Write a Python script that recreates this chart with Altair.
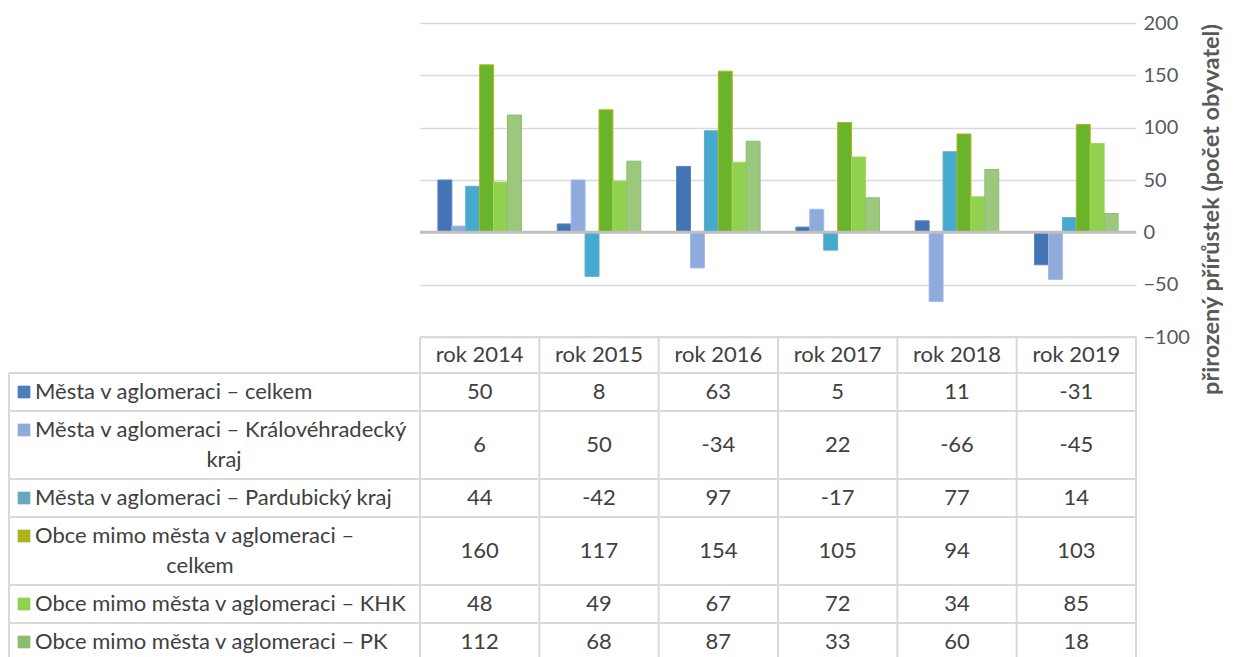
import altair as alt
import pandas as pd

years = ["rok 2014", "rok 2015", "rok 2016", "rok 2017", "rok 2018", "rok 2019"]
series = [
    "Města v aglomeraci – celkem",
    "Města v aglomeraci – Královéhradecký kraj",
    "Města v aglomeraci – Pardubický kraj",
    "Obce mimo města v aglomeraci – celkem",
    "Obce mimo města v aglomeraci – KHK",
    "Obce mimo města v aglomeraci – PK",
]
label_line1 = [
    "Města v aglomeraci – celkem",
    "Města v aglomeraci – Královéhradecký",
    "Města v aglomeraci – Pardubický kraj",
    "Obce mimo města v aglomeraci –",
    "Obce mimo města v aglomeraci – KHK",
    "Obce mimo města v aglomeraci – PK",
]
label_line2 = ["", "kraj", "", "celkem", "", ""]

mesta_celkem = [50, 8, 63, 5, 11, -31]
mesta_khk = [6, 50, -34, 22, -66, -45]
mesta_pk = [44, -42, 97, -17, 77, 14]
obce_celkem = [160, 117, 154, 105, 94, 103]
obce_khk = [48, 49, 67, 72, 34, 85]
obce_pk = [112, 68, 87, 33, 60, 18]
values = [mesta_celkem, mesta_khk, mesta_pk, obce_celkem, obce_khk, obce_pk]

bar_colors = ["#4474B4", "#8FAADC", "#45AACF", "#6AB42C", "#92D050", "#9CC87E"]
stroke_colors = ["#5585C2", "#A3BAE3", "#6AA9BF", "#B4B61A", "#A2DA66", "#8CBD6E"]
key_colors = ["#4A7EBB", "#8FAADC", "#65A8BF", "#A9B41C", "#92D050", "#8DBE6E"]

FONT = "Lato"
TXT = "#404040"
GRID = "#D9D9D9"
TFS = 22

# ---------- bar chart ----------
rows = []
for s, vals in zip(series, values):
    for y, v in zip(years, vals):
        rows.append({"year": y, "series": s, "value": v})
df = pd.DataFrame(rows)

PLOT_W, PLOT_H = 716, 314
LABEL_W = 412

ysc = alt.Scale(domain=[-100, 200], nice=False, zero=False)
bars = alt.Chart(df).mark_bar(strokeWidth=1).encode(
    x=alt.X("year:N", sort=years, axis=None,
            scale=alt.Scale(paddingInner=0.3, paddingOuter=0.15)),
    xOffset=alt.XOffset("series:N", sort=series,
                        scale=alt.Scale(paddingInner=0, paddingOuter=0)),
    y=alt.Y("value:Q", scale=ysc,
            axis=alt.Axis(orient="right", values=[-100, -50, 0, 50, 100, 150, 200],
                          grid=True, gridColor=GRID, gridWidth=1.5,
                          domain=False, ticks=False,
                          labelFontSize=20, labelColor="#595959", labelPadding=7,
                          labelFont=FONT,
                          title="přirozený přírůstek (počet obyvatel)",
                          titleFont=FONT, titleFontSize=23.5, titleFontWeight="bold",
                          titleColor="#595959", titlePadding=34, titleY=186,
                          titleAngle=270)),
    color=alt.Color("series:N", scale=alt.Scale(domain=series, range=bar_colors), legend=None),
    stroke=alt.Stroke("series:N", scale=alt.Scale(domain=series, range=stroke_colors), legend=None),
)
zero = alt.Chart(pd.DataFrame({"v": [0]})).mark_rule(color="#BFBFBF", strokeWidth=3).encode(
    y=alt.Y("v:Q", scale=ysc)
)
bar_chart = alt.layer(bars, zero).properties(width=PLOT_W, height=PLOT_H)

spacer = alt.Chart(pd.DataFrame({"a": [0]})).mark_point(opacity=0, size=0).encode(
    x=alt.value(200), y=alt.value(100)
).properties(width=LABEL_W, height=PLOT_H)

# ---------- table ----------
HEADER_H = 36
line_counts = [2 if l2 else 1 for l2 in label_line2]
row_h = [38 + 30 * (n - 1) for n in line_counts]
edges = [0, HEADER_H]
for h in row_h:
    edges.append(edges[-1] + h)
TABLE_H = edges[-1]
centers = [(edges[i + 1] + edges[i + 2]) / 2 for i in range(len(series))]

tsc = alt.Scale(domain=[0, TABLE_H], reverse=True, nice=False, zero=False)

cells = []
for i, (s, vals) in enumerate(zip(series, values)):
    for y, v in zip(years, vals):
        cells.append({"year": y, "value": str(v), "yc": centers[i]})
cells_df = pd.DataFrame(cells)
head_df = pd.DataFrame({"year": years, "yc": [HEADER_H / 2] * len(years)})

xsc = alt.Scale(paddingInner=0, paddingOuter=0)
num_text = alt.Chart(cells_df).mark_text(font=FONT, fontSize=TFS, color=TXT).encode(
    x=alt.X("year:N", sort=years, scale=xsc, axis=None),
    y=alt.Y("yc:Q", scale=tsc, axis=None),
    text="value:N",
)
head_text = alt.Chart(head_df).mark_text(font=FONT, fontSize=TFS, color=TXT).encode(
    x=alt.X("year:N", sort=years, scale=xsc, axis=None),
    y=alt.Y("yc:Q", scale=tsc, axis=None),
    text="year:N",
)
vlines = alt.Chart(pd.DataFrame({"year": years})).mark_rule(color=GRID, strokeWidth=2).encode(
    x=alt.X("year:N", sort=years, scale=xsc, axis=None, bandPosition=0)
)
vline_end = alt.Chart(pd.DataFrame({"year": [years[-1]]})).mark_rule(color=GRID, strokeWidth=2).encode(
    x=alt.X("year:N", sort=years, scale=xsc, axis=None, bandPosition=1)
)
hlines = alt.Chart(pd.DataFrame({"e": edges})).mark_rule(color=GRID, strokeWidth=2).encode(
    y=alt.Y("e:Q", scale=tsc, axis=None)
)
values_table = alt.layer(hlines, vlines, vline_end, head_text, num_text).properties(
    width=PLOT_W, height=TABLE_H
)

lab_df = pd.DataFrame({
    "series": series,
    "line1": label_line1,
    "line2": label_line2,
    "yc": centers,
    "y1": [c - 15 * (n - 1) for c, n in zip(centers, line_counts)],
    "y2": [c + 15 * (n - 1) for c, n in zip(centers, line_counts)],
})
lab_h = alt.Chart(pd.DataFrame({"e": edges[1:]})).mark_rule(color=GRID, strokeWidth=2).encode(
    y=alt.Y("e:Q", scale=tsc, axis=None), x=alt.value(1), x2=alt.value(LABEL_W - 1)
)
lab_v = alt.Chart(pd.DataFrame({"a": [HEADER_H], "b": [TABLE_H]})).mark_rule(color=GRID, strokeWidth=2).encode(
    y=alt.Y("a:Q", scale=tsc, axis=None), y2="b:Q", x=alt.value(1)
)
keys = alt.Chart(lab_df).mark_square(size=160, opacity=1).encode(
    x=alt.value(16),
    y=alt.Y("y1:Q", scale=tsc, axis=None),
    fill=alt.Fill("series:N", scale=alt.Scale(domain=series, range=key_colors), legend=None),
)
line1 = alt.Chart(lab_df).mark_text(font=FONT, fontSize=TFS, color=TXT, align="left").encode(
    x=alt.value(27),
    y=alt.Y("y1:Q", scale=tsc, axis=None),
    text="line1:N",
)
layers = [lab_h, lab_v, keys, line1]
line2_centers = {"kraj": 216, "celkem": 192}
for t, cx in line2_centers.items():
    layers.append(
        alt.Chart(lab_df[lab_df["line2"] == t]).mark_text(font=FONT, fontSize=TFS, color=TXT, align="center").encode(
            x=alt.value(cx),
            y=alt.Y("y2:Q", scale=tsc, axis=None),
            text="line2:N",
        )
    )
label_table = alt.layer(*layers).properties(width=LABEL_W, height=TABLE_H)

left_col = alt.vconcat(spacer, label_table, spacing=0, bounds="flush")
right_col = alt.vconcat(bar_chart, values_table, spacing=0, bounds="flush")

chart = alt.hconcat(left_col, right_col, spacing=-2).properties(
    padding={"left": 0, "top": 5, "right": 0, "bottom": 0}
).configure(font=FONT).configure_view(stroke="transparent", strokeWidth=0)

chart.save("out.html", embed_options={"renderer": "svg", "actions": False})
